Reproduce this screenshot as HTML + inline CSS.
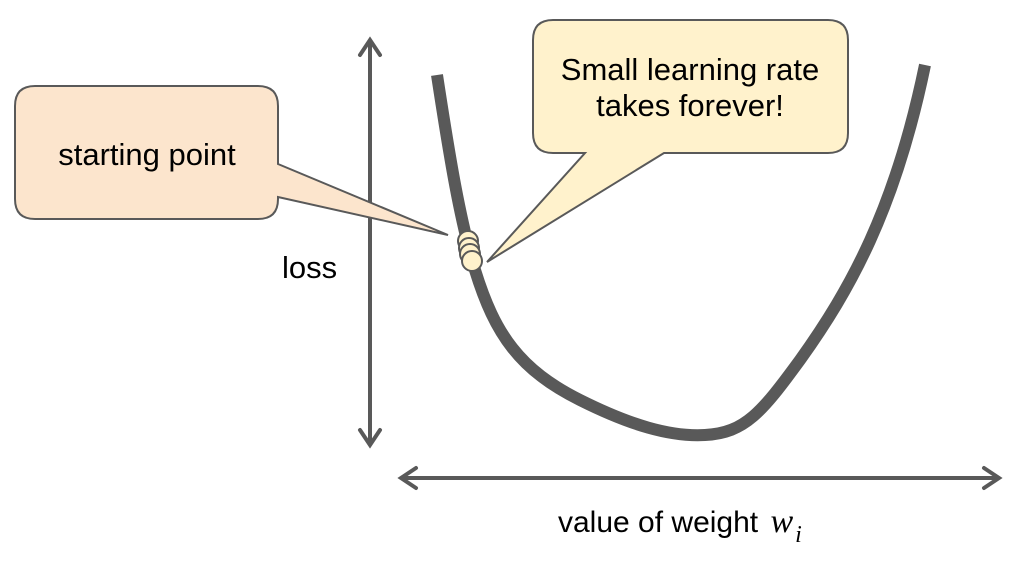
<!DOCTYPE html>
<html><head><style>body{margin:0;background:#fff}svg{display:block}</style></head><body>
<svg width="1022" height="562" viewBox="0 0 1022 562" xmlns="http://www.w3.org/2000/svg" font-family="Liberation Sans, sans-serif">
<g stroke="#595959" stroke-width="4" fill="none" stroke-linecap="round">
<line x1="370" y1="42" x2="370" y2="443"/>
<polyline points="360,55 370,40 380,55"/><polyline points="360,430 370,445 380,430"/>
<line x1="402" y1="478" x2="998" y2="478"/>
<polyline points="416,468 401,478 416,488"/><polyline points="984,468 999,478 984,488"/>
</g>
<path d="M437,75 C450,160 460,220 475,270 C495,335 520,370 580,400 C630,425 670,437 705,435 C745,433 762,412 800,360 C850,290 895,210 925,65" fill="none" stroke="#595959" stroke-width="12"/>
<path d="M35,86 H258 Q278,86 278,106 V164 L448,235 L278,197 V199 Q278,219 258,219 H35 Q15,219 15,199 V106 Q15,86 35,86 Z" fill="#fce5cd" stroke="#595959" stroke-width="2"/>
<path d="M553,20 H828 Q848,20 848,40 V133 Q848,153 828,153 H664 L487,262 L585,153 H553 Q533,153 533,133 V40 Q533,20 553,20 Z" fill="#fff2cc" stroke="#595959" stroke-width="2"/>
<g fill="#fff2cc" stroke="#595959" stroke-width="2">
<circle cx="468" cy="241" r="10"/><circle cx="469" cy="248" r="10"/><circle cx="470" cy="254" r="10"/><circle cx="472" cy="261" r="10"/>
</g>
<g fill="#000" font-size="31">
<text x="147" y="165" text-anchor="middle">starting point</text>
<text x="690" y="80" text-anchor="middle">Small learning rate</text>
<text x="690" y="116" text-anchor="middle">takes forever!</text>
<text x="282" y="278">loss</text>
<text x="558" y="532" font-size="30">value of weight <tspan font-family="Liberation Serif, serif" font-style="italic" font-size="34" dx="4">w</tspan><tspan font-family="Liberation Serif, serif" font-style="italic" font-size="24" dy="10" dx="2">i</tspan></text>
</g>
</svg>
</body></html>
